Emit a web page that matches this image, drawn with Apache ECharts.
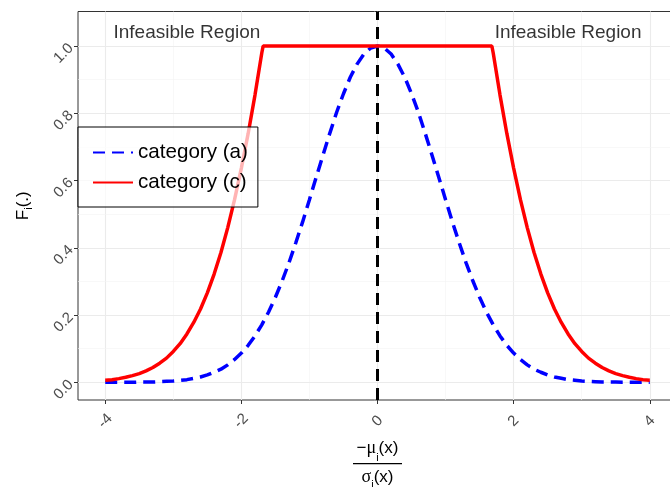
<!DOCTYPE html>
<html>
<head>
<meta charset="utf-8">
<script src="https://cdn.jsdelivr.net/npm/echarts@6/dist/echarts.min.js"></script>
<style>
  html, body { margin: 0; padding: 0; background: #ffffff; }
  #chart { width: 670px; height: 487px; }
</style>
</head>
<body>
<div id="chart"></div>
<script>
// Standardised distance -mu/sigma and the two membership curves
const xBlue = [-4.0,-3.9,-3.8,-3.7,-3.6,-3.5,-3.4,-3.3,-3.2,-3.1,-3.0,-2.9,-2.8,-2.7,-2.6,-2.5,-2.4,-2.3,-2.2,-2.1,
  -2.0,-1.9,-1.8,-1.7,-1.6,-1.5,-1.4,-1.3,-1.2,-1.1,-1.0,-0.9,-0.8,-0.7,-0.6,-0.5,-0.4,-0.3,-0.2,-0.1,
  0.0,0.1,0.2,0.3,0.4,0.5,0.6,0.7,0.8,0.9,1.0,1.1,1.2,1.3,1.4,1.5,1.6,1.7,1.8,1.9,
  2.0,2.1,2.2,2.3,2.4,2.5,2.6,2.7,2.8,2.9,3.0,3.1,3.2,3.3,3.4,3.5,3.6,3.7,3.8,3.9,4.0];
const yBlue = [0.000,0.000,0.000,0.000,0.000,0.001,0.001,0.001,0.002,0.003,0.004,0.006,0.008,0.012,0.016,0.022,0.030,0.039,0.052,0.068,
  0.087,0.110,0.138,0.171,0.209,0.253,0.302,0.356,0.415,0.477,0.543,0.610,0.676,0.741,0.803,0.858,0.907,0.946,0.976,0.994,
  1.000,0.994,0.976,0.946,0.907,0.858,0.803,0.741,0.676,0.610,0.543,0.477,0.415,0.356,0.302,0.253,0.209,0.171,0.138,0.110,
  0.087,0.068,0.052,0.039,0.030,0.022,0.016,0.012,0.008,0.006,0.004,0.003,0.002,0.001,0.001,0.001,0.000,0.000,0.000,0.000,0.000];

const xRed = [-4.0,-3.9,-3.8,-3.7,-3.6,-3.5,-3.4,-3.3,-3.2,-3.1,-3.0,-2.9,-2.8,-2.7,-2.6,-2.5,-2.4,-2.3,-2.2,-2.1,-2.0,-1.9,-1.8,-1.7,-1.68,
  1.68,1.7,1.8,1.9,2.0,2.1,2.2,2.3,2.4,2.5,2.6,2.7,2.8,2.9,3.0,3.1,3.2,3.3,3.4,3.5,3.6,3.7,3.8,3.9,4.0];
const yRed = [0.006,0.008,0.011,0.015,0.020,0.026,0.034,0.044,0.057,0.072,0.092,0.115,0.144,0.178,0.218,0.266,0.322,0.386,0.460,0.543,0.637,0.740,0.854,0.979,1.000,
  1.000,0.979,0.854,0.740,0.637,0.543,0.460,0.386,0.322,0.266,0.218,0.178,0.144,0.115,0.092,0.072,0.057,0.044,0.034,0.026,0.020,0.015,0.011,0.008,0.006];

const seriesNames = ['category (a)', 'category (c)'];

// Axis breaks
const xTicks = [-4, -2, 0, 2, 4];
const xMinor = [-3, -1, 1, 3];
const yTicks = [0, 0.2, 0.4, 0.6, 0.8, 1.0];
const yMinor = [0.1, 0.3, 0.5, 0.7, 0.9];

// Reference line and annotations
const vlineX = 0;
const annotX = [-2.8, 2.8];
const annotY = [1.04, 1.04];
const annotText = ['Infeasible Region', 'Infeasible Region'];

const FONT = 'Liberation Sans, Arial, sans-serif';
const GREEK = 'Liberation Serif, serif';

const pairs = (xs, ys) => xs.map((x, i) => [x, ys[i]]);

const gridLines = [].concat(
  xTicks.map(v => ({ xAxis: v, lineStyle: { color: '#ebebeb', width: 1.1, type: 'solid' } })),
  xMinor.map(v => ({ xAxis: v, lineStyle: { color: '#f4f4f4', width: 0.6, type: 'solid' } })),
  yTicks.map(v => ({ yAxis: v, lineStyle: { color: '#ebebeb', width: 1.1, type: 'solid' } })),
  yMinor.map(v => ({ yAxis: v, lineStyle: { color: '#f4f4f4', width: 0.6, type: 'solid' } }))
);

const chart = echarts.init(document.getElementById('chart'), null, { renderer: 'canvas' });

chart.setOption({
  animation: false,
  backgroundColor: '#ffffff',
  textStyle: { fontFamily: FONT },
  grid: {
    left: 78, right: -7, top: 11.5, bottom: 87,
    outerBoundsMode: 'none', containLabel: false,
    show: true, borderColor: '#333333', borderWidth: 1, backgroundColor: 'transparent'
  },
  legend: {
    data: seriesNames,
    orient: 'vertical',
    left: 78, top: 127,
    padding: [15, 10, 14, 14],
    itemWidth: 40, itemHeight: 20, itemGap: 9,
    backgroundColor: 'rgba(255,255,255,0.7)',
    borderColor: '#000000', borderWidth: 1,
    selectedMode: false,
    itemStyle: { opacity: 0 },
    textStyle: { fontSize: 20.6, lineHeight: 20, color: '#000000', fontFamily: FONT }
  },
  xAxis: {
    type: 'value', min: -4.4, max: 4.4,
    name: '{n|−}{g|μ}{s|i}{n|(x)}\n{bar|}\n{g2|σ}{s2|i}{n2|(x)}',
    nameLocation: 'middle', nameGap: 34,
    nameTextStyle: {
      align: 'center',
      rich: {
        n: { fontSize: 17, lineHeight: 29, fontFamily: FONT, color: '#000' },
        g: { fontSize: 18, lineHeight: 29, fontFamily: GREEK, color: '#000' },
        s: { fontSize: 11, lineHeight: 21, verticalAlign: 'bottom', fontFamily: FONT, color: '#000' },
        bar: { width: 49, height: 1.3, lineHeight: 1.3, backgroundColor: '#000' },
        n2: { fontSize: 17, lineHeight: 26, fontFamily: FONT, color: '#000' },
        g2: { fontSize: 18, lineHeight: 26, fontFamily: GREEK, color: '#000' },
        s2: { fontSize: 11, lineHeight: 18, verticalAlign: 'bottom', fontFamily: FONT, color: '#000' }
      }
    },
    axisLine: { show: false, onZero: false },
    axisTick: { show: true, length: 4, customValues: xTicks, lineStyle: { color: '#333333', width: 1 } },
    axisLabel: {
      customValues: xTicks, rotate: 45, align: 'center', verticalAlign: 'middle', margin: 21,
      fontSize: 15, color: '#4d4d4d', fontFamily: FONT
    },
    splitLine: { show: false }
  },
  yAxis: {
    type: 'value', min: -0.0525, max: 1.1025,
    name: '{n|F}{s|i}{n|(.)}',
    nameLocation: 'middle', nameGap: 44,
    nameTextStyle: {
      rich: {
        n: { fontSize: 17, lineHeight: 22, fontFamily: FONT, color: '#000' },
        s: { fontSize: 11, lineHeight: 15, verticalAlign: 'bottom', fontFamily: FONT, color: '#000' }
      }
    },
    axisLine: { show: false, onZero: false },
    axisTick: { show: true, length: 4, customValues: yTicks, lineStyle: { color: '#333333', width: 1 } },
    axisLabel: {
      customValues: yTicks, rotate: 45, margin: 7,
      fontSize: 15, color: '#4d4d4d', fontFamily: FONT,
      formatter: v => Number(v).toFixed(1)
    },
    splitLine: { show: false }
  },
  series: [
    {
      name: 'panel grid', type: 'line', z: 0, silent: true,
      data: [[0, 0]], showSymbol: false, symbol: 'none',
      lineStyle: { width: 0, opacity: 0 },
      markLine: {
        z: 0, silent: true, symbol: ['none', 'none'], animation: false,
        label: { show: false }, emphasis: { disabled: true },
        data: gridLines
      }
    },
    {
      name: seriesNames[0], type: 'line', z: 3,
      data: pairs(xBlue, yBlue), symbol: 'none', showSymbol: false,
      lineStyle: { color: '#0000ff', width: 3.5, type: [12, 7] },
      itemStyle: { color: '#0000ff' }
    },
    {
      name: seriesNames[1], type: 'line', z: 3,
      data: pairs(xRed, yRed), symbol: 'none', showSymbol: false,
      lineStyle: { color: '#ff0000', width: 3.5, type: 'solid' },
      itemStyle: { color: '#ff0000' }
    },
    {
      name: 'centre', type: 'line', z: 3, silent: true,
      data: [[vlineX, 0]], symbol: 'none', showSymbol: false,
      lineStyle: { width: 0, opacity: 0 },
      markLine: {
        z: 3, silent: true, symbol: ['none', 'none'], animation: false,
        label: { show: false }, emphasis: { disabled: true },
        lineStyle: { color: '#000000', width: 3, type: [12, 7] },
        data: [{ xAxis: vlineX }]
      }
    },
    {
      name: 'regions', type: 'scatter', z: 3, silent: true,
      data: annotX.map((x, i) => [x, annotY[i], annotText[i]]),
      symbolSize: 1, itemStyle: { color: 'transparent' },
      label: {
        show: true, position: 'inside', formatter: p => p.data[2],
        fontSize: 19, color: '#000000', fontFamily: FONT
      }
    }
  ]
});
</script>
</body>
</html>
